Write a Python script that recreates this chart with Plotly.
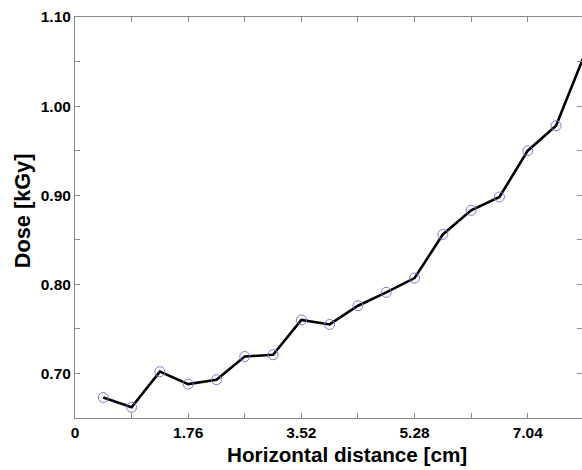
import plotly.graph_objects as go

# Data
distance_cm = [0.44, 0.88, 1.32, 1.76, 2.20, 2.64, 3.08, 3.52, 3.96, 4.40,
               4.84, 5.28, 5.72, 6.16, 6.60, 7.04, 7.48, 7.92]
dose_kgy = [0.673, 0.662, 0.702, 0.688, 0.693, 0.719, 0.721, 0.760, 0.755, 0.776,
            0.791, 0.807, 0.856, 0.883, 0.898, 0.950, 0.978, 1.057]

x_tick_vals = [0, 1.76, 3.52, 5.28, 7.04]
x_tick_text = ["0", "1.76", "3.52", "5.28", "7.04"]
y_tick_vals = [0.70, 0.80, 0.90, 1.00, 1.10]
y_tick_text = ["0.70", "0.80", "0.90", "1.00", "1.10"]

FONT = "Liberation Sans, Arial, Helvetica, sans-serif"

fig = go.Figure()
fig.add_trace(go.Scatter(
    x=distance_cm, y=dose_kgy,
    mode="lines+markers",
    line=dict(color="black", width=2.6),
    marker=dict(symbol="circle-open", size=10, color="#7b7bd6",
                line=dict(width=1, color="#7b7bd6")),
    cliponaxis=False,
    showlegend=False,
))

axis_common = dict(
    showline=True, linecolor="#8a8a8a", linewidth=1,
    mirror="allticks", ticks="inside", ticklen=5, tickcolor="#8a8a8a",
    showgrid=False, zeroline=False, automargin=False,
    tickfont=dict(family=FONT, size=15.5, color="black", weight="bold"),
)

fig.update_layout(
    width=582, height=470,
    margin=dict(l=75, r=0, t=17, b=52),
    paper_bgcolor="white", plot_bgcolor="white",
    xaxis=dict(
        range=[0, 7.884],
        tickvals=x_tick_vals, ticktext=x_tick_text,
        minor=dict(tickvals=[0.88, 2.64, 4.40, 6.16], ticks="inside",
                   ticklen=5, tickcolor="#8a8a8a"),
        **axis_common,
    ),
    yaxis=dict(
        range=[0.65, 1.10],
        tickvals=y_tick_vals, ticktext=y_tick_text,
        minor=dict(tickvals=[0.75, 0.85, 0.95, 1.05], ticks="inside",
                   ticklen=5, tickcolor="#8a8a8a"),
        **axis_common,
    ),
    annotations=[
        dict(text="Horizontal distance [cm]", xref="paper", yref="paper",
             x=(347 - 75) / 507, y=-(454 - 417.7) / 400.7,
             xanchor="center", yanchor="middle", showarrow=False,
             font=dict(family=FONT, size=20.7, color="black", weight="bold")),
        dict(text="Dose [kGy]", xref="paper", yref="paper",
             x=(22 - 75) / 507, y=(417.7 - 211) / 400.7, textangle=-90,
             xanchor="center", yanchor="middle", showarrow=False,
             font=dict(family=FONT, size=21.7, color="black", weight="bold")),
    ],
)

fig.write_html(
    "out.html",
    config={"displayModeBar": False},
    post_script="document.body.style.margin='0';document.body.style.overflow='hidden';",
)
